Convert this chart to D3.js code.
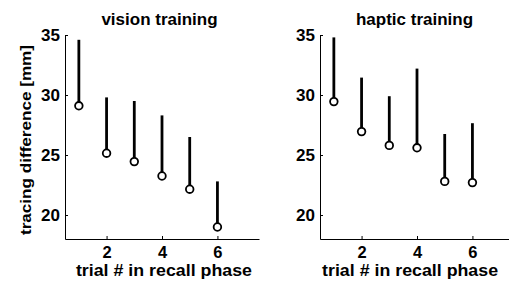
<!DOCTYPE html>
<html>
<head>
<meta charset="utf-8">
<script src="https://cdn.jsdelivr.net/npm/d3@7"></script>
<style>
  body { margin: 0; background: #fff; }
  svg text { font-family: "Liberation Sans", Arial, sans-serif; font-weight: bold; fill: #000; }
</style>
</head>
<body>
<svg id="chart" width="509" height="281"></svg>
<script>
const trials = [1, 2, 3, 4, 5, 6];
const visionMean = [29.1, 25.15, 24.45, 23.25, 22.15, 19.0];
const visionUpper = [34.6, 29.8, 29.5, 28.3, 26.5, 22.8];
const hapticMean = [29.45, 26.95, 25.8, 25.6, 22.8, 22.7];
const hapticUpper = [34.8, 31.45, 29.9, 32.2, 26.75, 27.65];
const xTicks = [2, 4, 6];
const yTicks = [20, 25, 30, 35];

const panels = [
  { title: "vision training", mean: visionMean, upper: visionUpper, left: 65, right: 259, labelAt: 4.07, ylabel: true },
  { title: "haptic training", mean: hapticMean, upper: hapticUpper, left: 320, right: 514, labelAt: 3.75, ylabel: false }
];

const svg = d3.select("#chart");
const y = d3.scaleLinear().domain([18, 35]).range([239, 35]);

panels.forEach(p => {
  const x = d3.scaleLinear().domain([0.5, 7.5]).range([p.left, p.right]);
  const g = svg.append("g");

  // axes
  g.append("g")
    .attr("transform", `translate(0,${y(18)})`)
    .call(d3.axisBottom(x).tickValues(xTicks).tickFormat(d3.format("d")).tickSize(-3).tickSizeOuter(0).tickPadding(7))
    .call(a => a.select(".domain").attr("stroke", "#000"))
    .call(a => a.selectAll("text").attr("font-size", 16.5).attr("font-family", null).attr("dy", "0.71em"));
  g.append("g")
    .attr("transform", `translate(${p.left},0)`)
    .call(d3.axisLeft(y).tickValues(yTicks).tickSize(-3).tickSizeOuter(0).tickPadding(5))
    .call(a => a.select(".domain").attr("stroke", "#000"))
    .call(a => a.selectAll("text").attr("font-size", 17).attr("font-family", null));

  // whiskers
  g.selectAll(".whisker")
    .data(trials)
    .join("line")
    .attr("x1", d => x(d))
    .attr("x2", d => x(d))
    .attr("y1", (d, i) => y(p.mean[i]))
    .attr("y2", (d, i) => y(p.upper[i]))
    .attr("stroke", "#000")
    .attr("stroke-width", 2.8);

  // means
  g.selectAll(".mean")
    .data(trials)
    .join("circle")
    .attr("cx", d => x(d))
    .attr("cy", (d, i) => y(p.mean[i]))
    .attr("r", 3.8)
    .attr("fill", "#fff")
    .attr("stroke", "#000")
    .attr("stroke-width", 1.8);

  g.append("text")
    .attr("x", (p.left + p.right - 5) / 2)
    .attr("y", 25)
    .attr("text-anchor", "middle")
    .attr("font-size", 17)
    .text(p.title);

  g.append("text")
    .attr("x", x(p.labelAt))
    .attr("y", 276)
    .attr("text-anchor", "middle")
    .attr("font-size", 17)
    .attr("textLength", 176)
    .attr("lengthAdjust", "spacingAndGlyphs")
    .text("trial # in recall phase");

  if (p.ylabel) {
    g.append("text")
      .attr("transform", `translate(31,${y(26.25)}) rotate(-90)`)
      .attr("text-anchor", "middle")
      .attr("font-size", 15)
      .attr("textLength", 190)
      .attr("lengthAdjust", "spacingAndGlyphs")
      .text("tracing difference [mm]");
  }
});
</script>
</body>
</html>
